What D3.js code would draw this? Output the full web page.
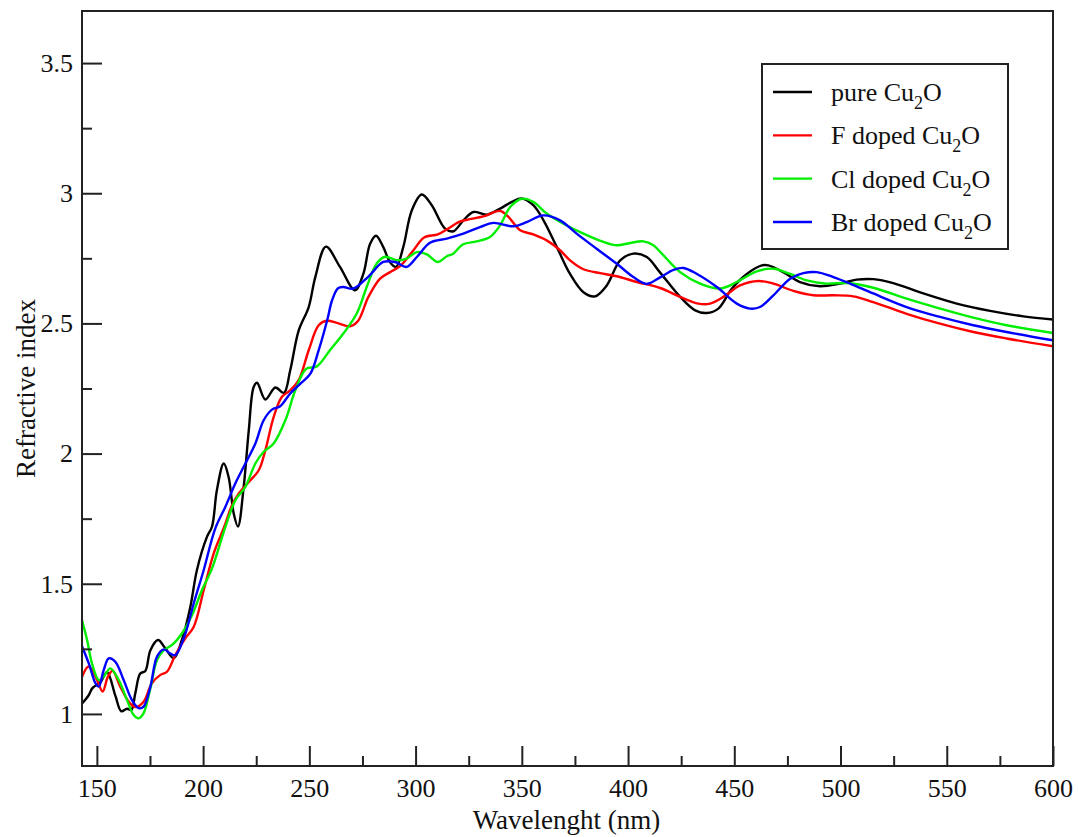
<!DOCTYPE html>
<html>
<head>
<meta charset="utf-8">
<script src="https://cdn.jsdelivr.net/npm/d3@7"></script>
<style>
  body { margin: 0; background: #fff; }
  svg text { font-family: "Liberation Serif", "Times New Roman", serif; fill: #111; }
</style>
</head>
<body>
<svg></svg>
<script>
const size = {w: 1078, h: 837};
const margin = {t: 11, r: 25, b: 71, l: 82};
const svg = d3.select('svg').attr('width', size.w).attr('height', size.h);
const serif = 'Liberation Serif, Times New Roman, serif';

// ---- data: [wavelength nm, refractive index] ----
const pureCu2O = [
  [143,1.04],[146,1.07],[148,1.10],[151.5,1.12],[154.8,1.16],[158.7,1.07],[161.5,1.01],[164.2,1.02],
  [166.2,1.015],[168.1,1.08],[170.4,1.155],[172.8,1.165],[175.2,1.245],[178.8,1.284],[182.2,1.252],
  [186.2,1.214],[190,1.284],[194,1.412],[197.1,1.553],[201.8,1.68],[204.2,1.72],[206.5,1.86],
  [209.7,1.962],[212,1.91],[214.4,1.77],[216.4,1.72],[219.1,1.872],[221.5,2.09],[223.8,2.256],
  [225.4,2.272],[229.3,2.208],[234,2.254],[238,2.233],[241,2.32],[245,2.473],[249.7,2.563],
  [252.8,2.678],[257.8,2.795],[264.4,2.717],[271.5,2.627],[275.4,2.69],[278.6,2.806],[281.4,2.837],
  [284.8,2.793],[288,2.735],[290.8,2.717],[294.2,2.793],[298.2,2.934],[302.9,2.995],[307.6,2.954],
  [313.9,2.864],[317.8,2.854],[322.5,2.896],[327.2,2.928],[333.5,2.918],[339.8,2.941],[345.3,2.967],
  [350,2.98],[355.4,2.954],[360.2,2.896],[366.5,2.793],[372.7,2.69],[379,2.62],[384.5,2.604],
  [390,2.646],[396.3,2.742],[402.5,2.768],[408.8,2.755],[415.1,2.695],[424.5,2.602],[431.6,2.55],
  [437,2.54],[442.5,2.557],[448.8,2.633],[455.9,2.69],[463,2.723],[466,2.723],[473,2.697],
  [480.9,2.659],[490.3,2.643],[499.7,2.653],[507.6,2.668],[515.4,2.67],[524.8,2.655],[539,2.615],
  [554.7,2.576],[570.4,2.548],[586.1,2.527],[600,2.515]
];
const fDoped = [
  [143,1.143],[146.2,1.182],[150.1,1.13],[152.7,1.086],[155.2,1.143],[157.4,1.166],[161,1.105],
  [165,1.047],[168.1,1.026],[172,1.047],[175.9,1.118],[179.9,1.15],[183,1.162],[186.9,1.226],
  [191.6,1.29],[195.6,1.335],[200.3,1.476],[205,1.617],[210,1.72],[213.5,1.80],[216.8,1.847],
  [221.5,1.891],[226.2,1.936],[229.3,2.013],[233.2,2.14],[237.1,2.218],[241,2.243],[245,2.282],
  [249.7,2.397],[254.4,2.493],[258.3,2.51],[262.9,2.502],[269.2,2.489],[272.8,2.508],[277.8,2.602],
  [283.3,2.672],[288,2.697],[292.7,2.72],[299,2.781],[304,2.83],[310.5,2.842],[315.4,2.864],
  [320,2.888],[324.1,2.898],[331.9,2.911],[339.8,2.932],[343.7,2.909],[349.2,2.858],[355.4,2.842],
  [361.7,2.819],[368,2.781],[372.7,2.742],[379,2.708],[386.8,2.693],[394.7,2.681],[404.1,2.659],
  [415.1,2.636],[424.5,2.602],[433.1,2.576],[438.6,2.576],[444.9,2.602],[452.7,2.646],[461.4,2.663],
  [468.4,2.653],[477.8,2.625],[487.2,2.608],[496.6,2.608],[506,2.604],[515.4,2.582],[531.1,2.537],
  [546.8,2.499],[562.5,2.467],[578.2,2.442],[600,2.412]
];
const clDoped = [
  [143,1.36],[145.4,1.284],[147.7,1.194],[150.9,1.13],[153.2,1.143],[156.3,1.175],[160.3,1.13],
  [164.2,1.053],[167.3,0.996],[169.7,0.983],[172,1.003],[175.2,1.099],[178.3,1.207],[181.5,1.245],
  [185.4,1.265],[190.1,1.31],[194.8,1.38],[199.5,1.476],[204.2,1.559],[210.5,1.719],[215.2,1.821],
  [219.9,1.872],[224.6,1.962],[228.5,2.007],[233.2,2.039],[238.7,2.128],[243.4,2.243],[248.4,2.325],
  [253.5,2.335],[259.7,2.397],[266,2.461],[272.3,2.538],[277,2.64],[281.7,2.73],[285.6,2.756],
  [291.1,2.743],[295.8,2.749],[300.6,2.774],[305.3,2.765],[310.5,2.736],[314.7,2.758],[317.7,2.768],
  [322.4,2.804],[328.7,2.815],[335,2.832],[339.8,2.877],[344.5,2.947],[350,2.979],[355.4,2.967],
  [361.7,2.922],[369.6,2.883],[379,2.845],[388.4,2.813],[394.7,2.80],[401,2.809],[407.2,2.815],
  [411.9,2.80],[415.1,2.775],[424.5,2.697],[433.9,2.653],[443.3,2.634],[451.2,2.659],[460.6,2.70],
  [468.4,2.71],[476.3,2.69],[484.1,2.665],[493.5,2.653],[502.9,2.655],[515.4,2.637],[531.1,2.595],
  [546.8,2.557],[562.5,2.522],[578.2,2.493],[600,2.463]
];
const brDoped = [
  [143,1.26],[146.2,1.194],[149.3,1.118],[150.9,1.105],[153.2,1.168],[155.6,1.213],[158.7,1.2],
  [162.6,1.13],[166.5,1.053],[169.7,1.022],[172,1.028],[175.2,1.105],[178.3,1.22],[181.5,1.248],
  [184.6,1.232],[186.9,1.226],[190.9,1.29],[195.6,1.425],[200.3,1.553],[205.7,1.712],[210.5,1.796],
  [215.2,1.886],[219.9,1.962],[224.6,2.039],[228.5,2.128],[232.4,2.169],[236.3,2.182],[241,2.231],
  [245.8,2.269],[250.5,2.307],[254.4,2.397],[258.4,2.512],[260.7,2.589],[263.5,2.635],[266,2.64],
  [270.7,2.634],[277.8,2.68],[284.8,2.736],[290.3,2.736],[295.8,2.717],[300.6,2.755],[306.8,2.81],
  [314.7,2.826],[322.5,2.845],[330.3,2.87],[336.6,2.886],[346,2.873],[352.3,2.889],[360.1,2.915],
  [368,2.896],[375.8,2.845],[385.2,2.787],[394.7,2.729],[402.5,2.678],[408.8,2.652],[415.1,2.677],
  [421.4,2.706],[426.1,2.713],[432.4,2.69],[441.8,2.64],[451.2,2.576],[457.4,2.557],[462.1,2.563],
  [468.4,2.608],[476.3,2.672],[482.5,2.693],[488.8,2.697],[496.6,2.678],[504.5,2.653],[515.4,2.615],
  [531.1,2.563],[546.8,2.525],[562.5,2.493],[578.2,2.467],[600,2.435]
];

const seriesNames = ['pure Cu|2|O', 'F doped Cu|2|O', 'Cl doped Cu|2|O', 'Br doped Cu|2|O'];
const seriesData = [pureCu2O, fDoped, clDoped, brDoped];
const seriesColors = ['#000000', '#ff0000', '#00ee00', '#0000ff'];

const xMajor = [150, 200, 250, 300, 350, 400, 450, 500, 550, 600];
const xMinor = [175, 225, 275, 325, 375, 425, 475, 525, 575];
const yMajor = [1, 1.5, 2, 2.5, 3, 3.5];
const yMinor = [1.25, 1.75, 2.25, 2.75, 3.25];

// ---- scales ----
const x = d3.scaleLinear().domain([143, 600]).range([margin.l, size.w - margin.r]);
const y = d3.scaleLinear().domain([0.8, 3.7]).range([size.h - margin.b, margin.t]);
const plotH = size.h - margin.b - margin.t;
const plotW = size.w - margin.r - margin.l;

// clip lines to frame
svg.append('clipPath').attr('id', 'clip')
  .append('rect').attr('x', margin.l).attr('y', margin.t).attr('width', plotW).attr('height', plotH);

// ---- lines ----
const line = d3.line()
  .x(d => x(d[0]))
  .y(d => y(d[1]))
  .curve(d3.curveCatmullRom.alpha(0.5));

svg.append('g').attr('clip-path', 'url(#clip)')
  .selectAll('path')
  .data(seriesData)
  .join('path')
  .attr('d', line)
  .attr('fill', 'none')
  .attr('stroke', (d, i) => seriesColors[i])
  .attr('stroke-width', 2.4)
  .attr('stroke-linejoin', 'round');

// ---- axes (ticks point inward, no domain line) ----
const xAxisG = svg.append('g').attr('transform', `translate(0,${size.h - margin.b})`);
xAxisG.call(d3.axisBottom(x).tickValues(xMajor).tickSize(-20).tickPadding(22).tickFormat(d3.format('d')));
xAxisG.append('g').call(d3.axisBottom(x).tickValues(xMinor).tickSize(-10).tickFormat(''));

const yAxisG = svg.append('g').attr('transform', `translate(${margin.l},0)`);
yAxisG.call(d3.axisLeft(y).tickValues(yMajor).tickSize(-20).tickPadding(9).tickFormat(d => d));
yAxisG.append('g').call(d3.axisLeft(y).tickValues(yMinor).tickSize(-10).tickFormat(''));

svg.selectAll('.domain').remove();
[xAxisG, yAxisG].forEach(g => g.attr('font-family', serif).attr('font-size', 26));
svg.selectAll('.tick line').attr('stroke', '#222').attr('stroke-width', 2);
svg.selectAll('.tick text')
  .attr('font-family', serif)
  .attr('font-size', 26)
  .attr('fill', '#111');
xAxisG.selectAll('.tick text').attr('dy', '0.35em');

// frame
svg.append('rect')
  .attr('x', margin.l).attr('y', margin.t)
  .attr('width', plotW).attr('height', plotH)
  .attr('fill', 'none').attr('stroke', '#222').attr('stroke-width', 2);

// axis titles
svg.append('text')
  .attr('x', (margin.l + size.w - margin.r) / 2 - 1)
  .attr('y', 829)
  .attr('text-anchor', 'middle')
  .style('font-size', '27px')
  .text('Wavelenght (nm)');

svg.append('text')
  .attr('transform', `translate(35,${(margin.t + size.h - margin.b) / 2})rotate(-90)`)
  .attr('text-anchor', 'middle')
  .style('font-size', '27px')
  .text('Refractive index');

// ---- legend ----
const legend = svg.append('g');
legend.append('rect')
  .attr('x', 762).attr('y', 64).attr('width', 246).attr('height', 185)
  .attr('fill', '#fff').attr('stroke', '#222').attr('stroke-width', 2);

const rowY = d3.scalePoint().domain(d3.range(seriesNames.length)).range([92, 222]);

const rows = legend.selectAll('g.row')
  .data(seriesNames)
  .join('g').classed('row', true)
  .attr('transform', (d, i) => `translate(0,${rowY(i)})`);

rows.append('line')
  .attr('x1', 773).attr('x2', 812)
  .attr('stroke', (d, i) => seriesColors[i])
  .attr('stroke-width', 2.4);

rows.append('text')
  .attr('x', 831).attr('y', 9)
  .style('font-size', '26px')
  .each(function(d) {
    const parts = d.split('|');
    const t = d3.select(this);
    t.append('tspan').text(parts[0]);
    t.append('tspan').attr('dy', 8).style('font-size', '18px').text(parts[1]);
    t.append('tspan').attr('dy', -8).text(parts[2]);
  });
</script>
</body>
</html>
